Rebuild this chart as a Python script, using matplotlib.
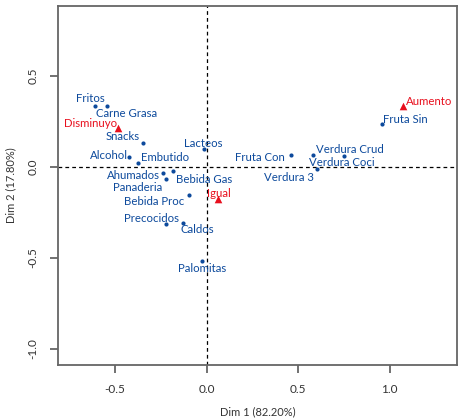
import numpy as np
import matplotlib
matplotlib.use("Agg")
import matplotlib.pyplot as plt

# column points (food groups)
foods = ["Fritos", "Carne Grasa", "Snacks", "Lacteos", "Alcohol", "Embutido",
         "Ahumados", "Bebida Gas", "Panaderia", "Bebida Proc", "Precocidos",
         "Caldos", "Palomitas", "Fruta Sin", "Fruta Con", "Verdura Crud",
         "Verdura Coci", "Verdura 3"]
food_x = [-0.610, -0.546, -0.346, -0.013, -0.423, -0.374, -0.237, -0.184,
          -0.221, -0.098, -0.221, -0.130, -0.027, 0.956, 0.462, 0.583,
          0.749, 0.601]
food_y = [0.335, 0.335, 0.132, 0.097, 0.052, 0.020, -0.035, -0.025,
          -0.068, -0.156, -0.317, -0.311, -0.516, 0.233, 0.062, 0.062,
          0.059, -0.013]

# row points (consumption change)
groups = ["Disminuyo", "Igual", "Aumento"]
group_x = [-0.483, 0.063, 1.071]
group_y = [0.211, -0.179, 0.333]

# label offsets in pixels (label centre relative to its point)
food_off = {
    "Fritos": (-5, 7), "Carne Grasa": (20, -8), "Snacks": (-21, 6),
    "Lacteos": (-1, 6), "Alcohol": (-20, 2), "Embutido": (27, 6),
    "Ahumados": (-30, -2), "Bebida Gas": (31, -8), "Panaderia": (-29, -8),
    "Bebida Proc": (-35, -6), "Precocidos": (-15, 6), "Caldos": (14, -6),
    "Palomitas": (0, -8), "Fruta Sin": (24, 5), "Fruta Con": (-31, -2),
    "Verdura Crud": (36, 6), "Verdura Coci": (-2, -7), "Verdura 3": (-28, -8),
}
group_off = {"Disminuyo": (-28, 5), "Igual": (1, 6), "Aumento": (26, 5)}

blue = "#0d4a9c"
red = "#e8101e"
grey = "#666666"
fnt = "Lato"

fig = plt.figure(figsize=(4.65, 4.18), dpi=100)
ax = fig.add_axes([0.1247, 0.1268, 0.8587, 0.8596])

ax.axhline(0, color="black", lw=0.9, ls=(0, (3, 2.5)), zorder=1)
ax.axvline(0, color="black", lw=0.9, ls=(0, (3, 2.5)), zorder=1)

ax.scatter(food_x, food_y, s=9, color=blue, zorder=3, linewidths=0)
ax.scatter(group_x, group_y, s=30, marker="^", color=red, zorder=3, linewidths=0)

for name, x, y in zip(foods, food_x, food_y):
    dx, dy = food_off[name]
    ax.annotate(name, (x, y), xytext=(dx, dy), textcoords="offset pixels",
                ha="center", va="center", color=blue, fontsize=8.2, family=fnt)
for name, x, y in zip(groups, group_x, group_y):
    dx, dy = group_off[name]
    ax.annotate(name, (x, y), xytext=(dx, dy), textcoords="offset pixels",
                ha="center", va="center", color=red, fontsize=8.2, family=fnt)

ax.set_xlim(-0.8126, 1.369)
ax.set_ylim(-1.09, 0.885)
ax.set_xticks([-0.5, 0.0, 0.5, 1.0])
ax.set_yticks([-1.0, -0.5, 0.0, 0.5])
ax.set_xticklabels(["-0.5", "0.0", "0.5", "1.0"], family=fnt, fontsize=8.5)
ax.set_yticklabels(["-1.0", "-0.5", "0.0", "0.5"], family=fnt, fontsize=8.5,
                   rotation=90, va="center")
for s in ax.spines.values():
    s.set_color(grey)
    s.set_linewidth(1.3)
ax.tick_params(colors=grey, width=1.3, length=6, labelcolor="#333333", pad=8)

ax.set_xlabel("Dim 1 (82.20%)", family=fnt, fontsize=8, color="#333333", labelpad=8)
ax.set_ylabel("Dim 2 (17.80%)", family=fnt, fontsize=8, color="#333333", labelpad=8)

fig.savefig("out.png", dpi=100)
